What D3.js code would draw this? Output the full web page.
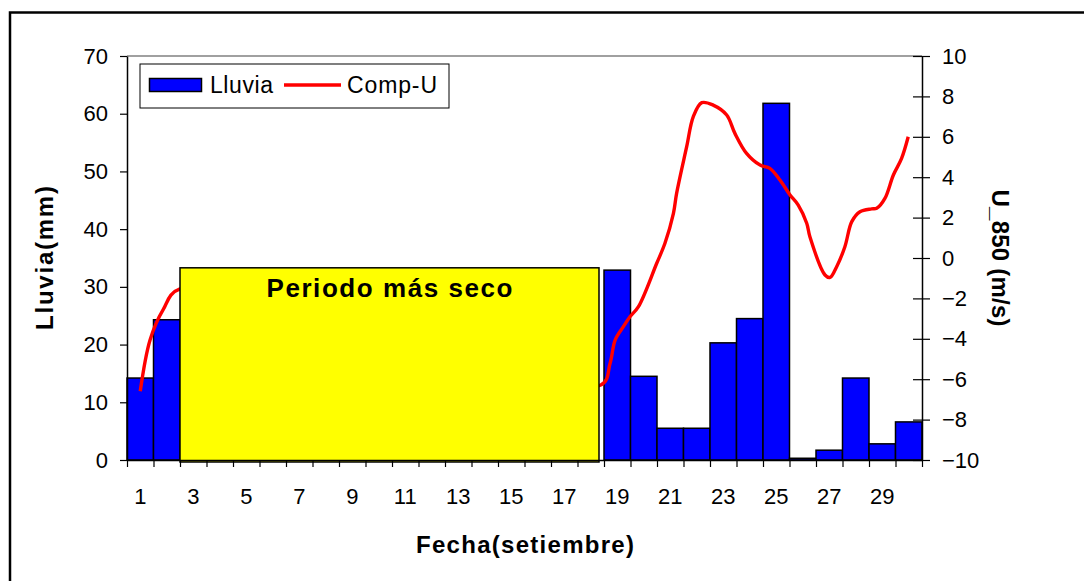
<!DOCTYPE html>
<html>
<head>
<meta charset="utf-8">
<script src="https://cdn.jsdelivr.net/npm/d3@7"></script>
<style>
  body { margin: 0; background: #fff; }
  text { font-family: "Liberation Sans", Arial, sans-serif; fill: #000; }
</style>
</head>
<body>
<div id="chart"></div>
<script>
// daily rainfall (mm), days 3-18 are under the "dry period" box
var days = d3.range(1, 31);
var rain = [14.2, 24.3, null, null, null, null, null, null, null, null,
            null, null, null, null, null, null, null, null, 32.9, 14.5,
            5.5, 5.5, 20.3, 24.5, 61.8, 0.3, 1.7, 14.2, 2.8, 6.6];

// zonal wind at 850 hPa (m/s)
var uDay = [1.0, 1.37, 1.86, 2.5, 18.38, 18.73, 18.92, 19.23, 19.48, 19.8,
            20.49, 20.8, 21.12, 21.24, 21.62, 21.87, 22.19, 22.62, 23.13, 23.44,
            23.88, 24.39, 24.76, 25.14, 25.52, 25.83, 26.15, 26.27, 26.84, 27.03,
            27.28, 27.59, 27.85, 28.16, 28.6, 28.79, 29.1, 29.42, 29.73, 29.98];
var uVal = [-6.6, -4.06, -2.57, -1.53, -6.29, -5.21, -4.06, -3.4, -2.91, -2.41,
            -0.26, 0.73, 2.21, 3.2, 5.51, 7.0, 7.69, 7.57, 7.08, 6.17,
            5.18, 4.6, 4.44, 3.86, 3.12, 2.62, 1.72, 1.05, -0.84, -0.96,
            -0.43, 0.56, 1.8, 2.29, 2.43, 2.46, 2.95, 4.11, 4.93, 6.0];

var leftTicks = d3.range(0, 71, 10);
var rightTicks = d3.range(-10, 11, 2);
var xLabels = d3.range(1, 31, 2);

var W = 1084, H = 581;
var margin = {top: 56, right: 162, bottom: 121, left: 127};
var x0 = margin.left, x1 = W - margin.right,
    y0 = margin.top, y1 = H - margin.bottom;

var svg = d3.select("#chart").append("svg")
    .attr("width", W).attr("height", H);

// outer frame
svg.append("rect")
    .attr("x", 10).attr("y", 12.5)
    .attr("width", W + 20).attr("height", H + 20)
    .attr("fill", "none").attr("stroke", "#000").attr("stroke-width", 2.5);

var x = d3.scaleBand().domain(days).range([x0, x1]).padding(0);
var xd = d3.scaleLinear().domain([0.5, 30.5]).range([x0, x1]);
var yL = d3.scaleLinear().domain([0, 70]).range([y1, y0]);
var yR = d3.scaleLinear().domain([-10, 10]).range([y1, y0]);

// top border of plot area
svg.append("line")
    .attr("x1", x0).attr("x2", x1).attr("y1", y0).attr("y2", y0)
    .attr("stroke", "#808080").attr("stroke-width", 1.5);

// bars
svg.append("g").selectAll("rect")
    .data(days.map(function(d, i) { return {day: d, v: rain[i]}; })
              .filter(function(d) { return d.v !== null; }))
    .join("rect")
    .attr("x", function(d) { return x(d.day); })
    .attr("y", function(d) { return yL(d.v); })
    .attr("width", x.bandwidth())
    .attr("height", function(d) { return yL(0) - yL(d.v); })
    .attr("fill", "#0000ff")
    .attr("stroke", "#000").attr("stroke-width", 1.5);

// wind line
var line = d3.line()
    .x(function(d) { return xd(d[0]); })
    .y(function(d) { return yR(d[1]); })
    .curve(d3.curveCatmullRom);
svg.append("path")
    .datum(uDay.map(function(d, i) { return [d, uVal[i]]; }))
    .attr("d", line)
    .attr("fill", "none").attr("stroke", "#ff0000").attr("stroke-width", 3.4);

// dry period box
var bx0 = x(3), bx1 = x(18) + x.bandwidth() - 5;
svg.append("rect")
    .attr("x", bx0).attr("y", yL(33.3))
    .attr("width", bx1 - bx0).attr("height", yL(0) - yL(33.3) + 2)
    .attr("fill", "#ffff00").attr("stroke", "#000").attr("stroke-width", 1.5);
svg.append("text")
    .attr("x", (bx0 + bx1) / 2).attr("y", yL(33.3) + 29)
    .attr("text-anchor", "middle")
    .attr("textLength", 246).attr("lengthAdjust", "spacing")
    .style("font-size", "26px").style("font-weight", "bold")
    .text("Periodo más seco");

// axes
var gL = svg.append("g").attr("transform", "translate(" + x0 + ",0)")
    .call(d3.axisLeft(yL).tickValues(leftTicks).tickSize(7).tickPadding(12).tickSizeOuter(0));
var gR = svg.append("g").attr("transform", "translate(" + x1 + ",0)")
    .call(d3.axisRight(yR).tickValues(rightTicks).tickSize(8).tickPadding(12).tickSizeOuter(0));
gR.selectAll(".tick line").attr("x1", -9);
var gX = svg.append("g").attr("transform", "translate(0," + y1 + ")")
    .call(d3.axisBottom(xd).tickValues(d3.range(0.5, 31, 1)).tickSize(7).tickFormat("").tickSizeOuter(0));

[gL, gR, gX].forEach(function(g) {
  g.select(".domain").attr("stroke", "#000").attr("stroke-width", 1.5);
  g.selectAll(".tick line").attr("stroke", "#000").attr("stroke-width", 1.2);
  g.selectAll(".tick text").style("font-size", "22px").style("font-family", "Liberation Sans, Arial, sans-serif");
});

svg.append("g").selectAll("text")
    .data(xLabels).join("text")
    .attr("x", function(d) { return x(d) + x.bandwidth() / 2; })
    .attr("y", 504)
    .attr("text-anchor", "middle")
    .style("font-size", "22px")
    .text(function(d) { return d; });

// axis titles
svg.append("text")
    .attr("transform", "translate(53,258) rotate(-90)")
    .attr("text-anchor", "middle")
    .attr("textLength", 144).attr("lengthAdjust", "spacing")
    .style("font-size", "24px").style("font-weight", "bold")
    .text("Lluvia(mm)");
svg.append("text")
    .attr("transform", "translate(992,258) rotate(90)")
    .attr("text-anchor", "middle")
    .attr("textLength", 137).attr("lengthAdjust", "spacing")
    .style("font-size", "24px").style("font-weight", "bold")
    .text("U_850 (m/s)");
svg.append("text")
    .attr("x", 525).attr("y", 553)
    .attr("text-anchor", "middle")
    .attr("textLength", 218).attr("lengthAdjust", "spacing")
    .style("font-size", "24px").style("font-weight", "bold")
    .text("Fecha(setiembre)");

// legend
var lg = svg.append("g");
lg.append("rect")
    .attr("x", 140).attr("y", 64).attr("width", 309).attr("height", 44)
    .attr("fill", "#fff").attr("stroke", "#000").attr("stroke-width", 1);
lg.append("rect")
    .attr("x", 149.5).attr("y", 78.5).attr("width", 52).attr("height", 13)
    .attr("fill", "#0000ff").attr("stroke", "#000").attr("stroke-width", 1.5);
lg.append("text").attr("x", 210).attr("y", 93)
    .attr("textLength", 63).attr("lengthAdjust", "spacing")
    .style("font-size", "23px").text("Lluvia");
lg.append("line")
    .attr("x1", 284).attr("x2", 341).attr("y1", 85).attr("y2", 85)
    .attr("stroke", "#ff0000").attr("stroke-width", 3.4);
lg.append("text").attr("x", 347).attr("y", 93)
    .attr("textLength", 90).attr("lengthAdjust", "spacing")
    .style("font-size", "23px").text("Comp-U");
</script>
</body>
</html>
